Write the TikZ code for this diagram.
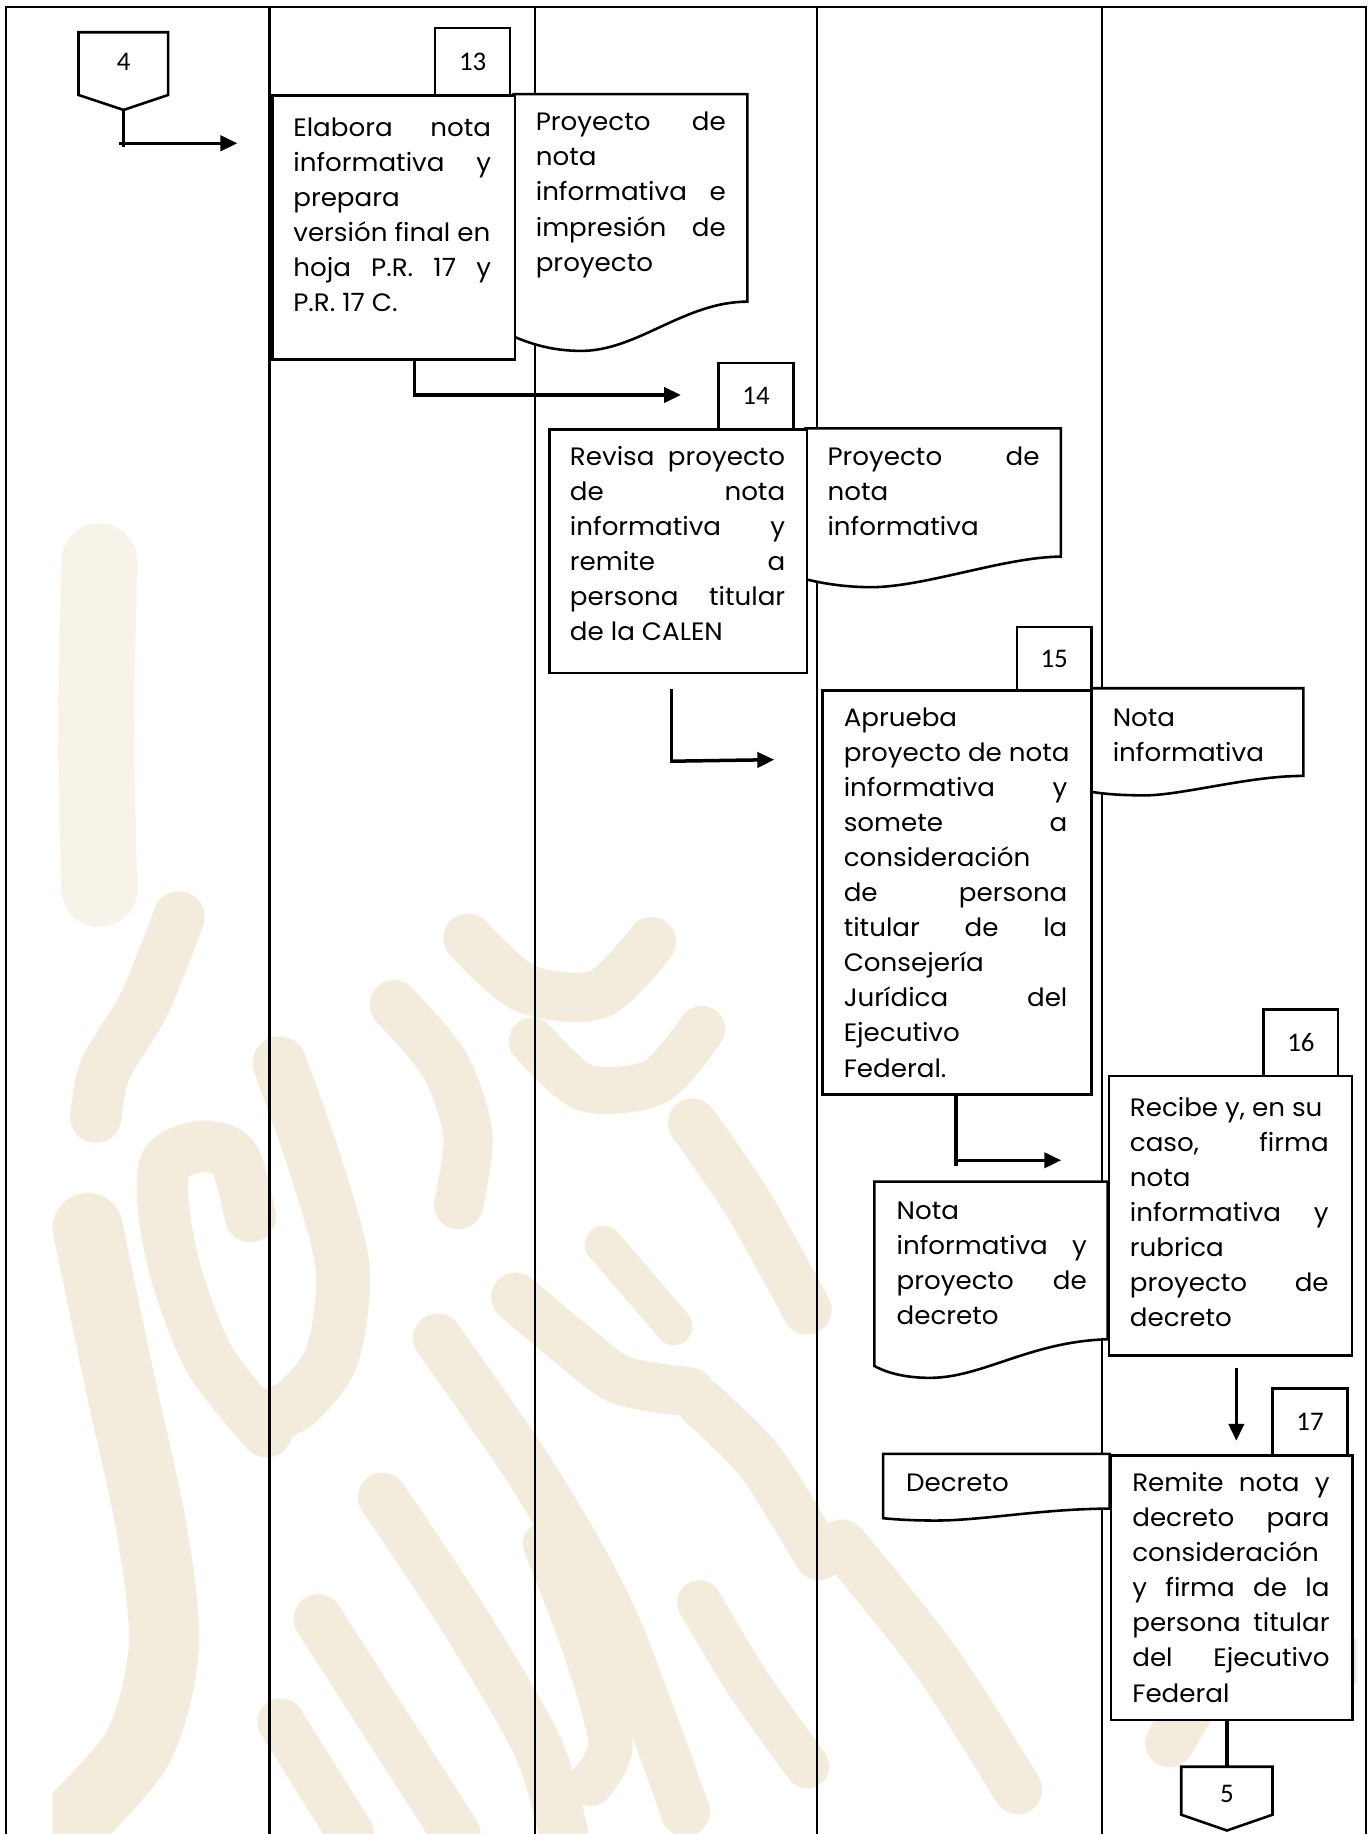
\documentclass[tikz,border=0pt]{standalone}
\usepackage{fontspec}
\setmainfont{Poppins}[FakeStretch=1.04]
\newfontfamily\numfont{Carlito}
\usetikzlibrary{arrows.meta}
\definecolor{wmA}{HTML}{F3ECDC}
\definecolor{wmB}{HTML}{F8F3E9}
\newcommand\jl[2]{\makebox[#1pt][s]{#2}}
\newcommand\fs{\rule{0pt}{20pt}}
\begin{document}
\begin{tikzpicture}[x=1pt,y=-1pt,
  lane/.style={line width=1.8pt},
  procbox/.style={draw, line width=2.2pt, fill=white, inner sep=0pt, anchor=north west},
  docshape/.style={draw, line width=2.2pt, fill=white},
  numbox/.style={draw, line width=2.2pt, fill=white, inner sep=0pt, anchor=north west},
  numtxt/.style={inner sep=0pt, font=\numfont\fontsize{23}{23}\selectfont},
  txt/.style={anchor=north west, inner sep=0pt, align=left, font=\fontsize{21.5}{30}\selectfont},
  flow/.style={line width=3pt},
  flowarr/.style={line width=3pt, -{Triangle[length=14.5pt,width=13pt]}},
  wmark/.style={draw=wmA, line cap=round, line join=round},
  wmarkl/.style={draw=wmB, line cap=round, line join=round},
]
\useasboundingbox (0,0) rectangle (1172,1568);
\fill[white] (0,0) rectangle (1172,1568);

% ---------- background watermark (approximate)
\begin{scope}
\clip (45,0) rectangle (1160,1568);
\draw[wmarkl, line width=65pt] plot[smooth] coordinates {(85,480) (82,620) (85,760)};
% lower-left
\draw[wmark, line width=44pt] plot[smooth] coordinates {(153,784) (123,859) (90,914) (82,955)};
\draw[wmark, line width=60pt] plot[smooth] coordinates {(75,1050) (103,1184) (130,1309) (140,1409) (118,1494) (60,1560)};
\draw[wmark, line width=44pt] plot[smooth] coordinates {(214,1040) (200,990) (172,980) (142,994) (140,1035) (152,1094) (180,1164) (228,1224)};
\draw[wmark, line width=46pt] plot[smooth] coordinates {(239,909) (269,994) (293,1084) (284,1159) (254,1199) (226,1212)};
\draw[wmark, line width=42pt] plot[smooth] coordinates {(337,859) (380,910) (400,970) (392,1030)};
\draw[wmark, line width=42pt] plot[smooth] coordinates {(400,802) (449,845) (512,850) (557,805)};
\draw[wmark, line width=40pt] plot[smooth] coordinates {(455,890) (500,930) (560,925) (600,880)};
\draw[wmark, line width=42pt] plot[smooth] coordinates {(441,1109) (490,1150) (531,1180) (590,1190)};
\draw[wmark, line width=32pt] plot[smooth] coordinates {(516,1064) (576,1134)};
\draw[wmark, line width=40pt] (240,1472) -- (300,1568);
\draw[wmark, line width=42pt] (272,1384) -- (390,1568);
\draw[wmark, line width=42pt] plot[smooth] coordinates {(327,1280) (400,1390) (460,1494) (482,1568)};
\draw[wmark, line width=42pt] plot[smooth] coordinates {(374,1144) (457,1264) (524,1384) (586,1549)};
\draw[wmark, line width=38pt] plot[smooth] coordinates {(466,1320) (500,1409) (522,1490) (505,1525)};
% lower-right
\draw[wmark, line width=42pt] plot[smooth] coordinates {(592,960) (640,1030) (690,1120)};
\draw[wmark, line width=38pt] plot[smooth] coordinates {(598,1370) (640,1440) (690,1510)};
\draw[wmark, line width=42pt] plot[smooth] coordinates {(600,1200) (650,1250) (700,1330)};
\draw[wmark, line width=42pt] plot[smooth] coordinates {(720,1320) (800,1420) (870,1530)};
\draw[wmark, line width=42pt] plot[smooth] coordinates {(1000,1490) (1040,1430) (1100,1400) (1150,1420)};
\end{scope}

% frame and lanes
\draw[lane] (5,1568) -- (5,6.3) -- (1167.5,6.3) -- (1167.5,1568);
\foreach \x in {230.4,457.5,698.4,941.9} \draw[lane] (\x,6.3) -- (\x,1568);

% ---------- connector 4
\draw[docshape] (67.1,27.6) -- (143.8,27.6) -- (143.8,81.2) -- (105.7,94) -- (67.1,81.2) -- cycle;
\node[numtxt] (c4) at (105.7,53) {4};
\coordinate (c4tip) at (105.7,94);
\coordinate (c4low) at (105.7,125.4);
\coordinate (c4a) at (101.5,122.5);
\coordinate (c4b) at (203,122.5);
\draw[flow] (c4tip) -- (c4low);
\draw[flowarr] (c4a) -- (c4b);

% ---------- step 13
\draw[docshape] (439.2,80.4) -- (639,80.4) -- (639,257.9) .. controls (585,258) and (545,300) .. (497,300) .. controls (470,300) and (452,293) .. (439.2,287.8) -- cycle;
\node[procbox, minimum width=207.2pt, minimum height=225.9pt] (p13) at (232,80.4) {};
\node[numbox, minimum width=64.2pt, minimum height=57.6pt] (n13) at (370.9,22.8) {};
\node[numtxt] (l13) at (n13.center) {13};
\node[txt] (t13) at (250.6,96.3) {\fs\jl{169}{Elabora nota}\\ \jl{169}{informativa y}\\ prepara\\ versión final en\\ \jl{169}{hoja P.R. 17 y}\\ P.R. 17 C.};
\node[txt] (t13d) at (457.9,91.6) {\fs\jl{162.4}{Proyecto de}\\ nota\\ \jl{162.4}{informativa e}\\ \jl{162.4}{impresión de}\\ proyecto};
\coordinate (c13a) at (354.3,306.3);
\coordinate (c13b) at (354.3,339.2);
\coordinate (c13c) at (354.3,337.7);
\coordinate (c13d) at (582.2,337.7);
\draw[flow] (c13a) -- (c13b);
\draw[flowarr] (c13c) -- (c13d);

% ---------- step 14
\draw[docshape] (688.8,366.2) -- (907,366.2) -- (907,475.9) .. controls (860,476) and (790,502) .. (745,502) .. controls (720,502) and (700,498) .. (688.8,495.2) -- cycle;
\node[procbox, minimum width=220.3pt, minimum height=208pt] (p14) at (468.5,366.2) {};
\node[numbox, minimum width=63.8pt, minimum height=57pt] (n14) at (613.4,309.2) {};
\node[numtxt] (l14) at (n14.center) {14};
\node[txt] (t14) at (487.1,377.5) {\fs\jl{184}{Revisa proyecto}\\ \jl{184}{de nota}\\ \jl{184}{informativa y}\\ \jl{184}{remite a}\\ \jl{184}{persona titular}\\ de la CALEN};
\node[txt] (t14d) at (707.3,377.5) {\fs\jl{181.3}{Proyecto de}\\ nota\\ informativa};
\coordinate (c14a) at (574,589.3);
\coordinate (c14b) at (574,652.3);
\coordinate (c14c) at (574,650.8);
\coordinate (c14d) at (662,649.5);
\draw[flow] (c14a) -- (c14b);
\draw[flowarr] (c14c) -- (c14d);

% ---------- step 15
\draw[docshape] (932,588.4) -- (1114.3,588.4) -- (1114.3,663.4) .. controls (1070,663) and (1010,680) .. (979,680) .. controls (960,680) and (945,679) .. (932,676.8) -- cycle;
\node[procbox, minimum width=230pt, minimum height=345.5pt] (p15) at (702.2,589.3) {};
\node[numbox, minimum width=63.7pt, minimum height=54.2pt] (n15) at (868.3,535.1) {};
\node[numtxt] (l15) at (n15.center) {15};
\node[txt] (t15) at (721.2,600.6) {\fs Aprueba\\ proyecto de nota\\ \jl{191.2}{informativa y}\\ \jl{191.2}{somete a}\\ consideración\\ \jl{191.2}{de persona}\\ \jl{191.2}{titular de la}\\ Consejería\\ \jl{191.2}{Jurídica del}\\ Ejecutivo\\ Federal.};
\node[txt] (t15d) at (951.2,600.6) {\fs Nota\\ informativa};
\coordinate (c15a) at (817.3,934.8);
\coordinate (c15b) at (817.3,997);
\coordinate (c15c) at (817.3,992);
\coordinate (c15d) at (907.3,992);
\draw[flow] (c15a) -- (c15b);
\draw[flowarr] (c15c) -- (c15d);

% ---------- step 16
\draw[docshape] (747.5,1010.2) -- (947,1010.2) -- (947,1145) .. controls (880,1147) and (840,1178) .. (795,1178) .. controls (770,1178) and (755,1172) .. (747.5,1167.8) -- cycle;
\node[procbox, minimum width=207.8pt, minimum height=238.8pt] (p16) at (947,919) {};
\node[numbox, minimum width=63.7pt, minimum height=57pt] (n16) at (1079.3,862) {};
\node[numtxt] (l16) at (n16.center) {16};
\node[txt] (t16) at (965.8,934) {\fs Recibe y, en su\\ \jl{170}{caso, firma}\\ nota\\ \jl{170}{informativa y}\\ rubrica\\ \jl{170}{proyecto de}\\ decreto};
\node[txt] (t16d) at (766.4,1022) {\fs Nota\\ \jl{162.6}{informativa y}\\ \jl{162.6}{proyecto de}\\ decreto};
\coordinate (c16a) at (1057,1170);
\coordinate (c16b) at (1057,1231.8);
\draw[flowarr] (c16a) -- (c16b);

% ---------- step 17
\draw[docshape] (755,1243) -- (948.7,1243) -- (948.7,1289.8) .. controls (890,1290) and (840,1300) .. (800,1300) .. controls (780,1300) and (765,1299) .. (755,1298) -- cycle;
\node[procbox, minimum width=206.7pt, minimum height=226.2pt] (p17) at (948.7,1243.2) {};
\node[numbox, minimum width=63.9pt, minimum height=57.1pt] (n17) at (1087,1186.1) {};
\node[numtxt] (l17) at (n17.center) {17};
\node[txt] (t17) at (967.9,1255) {\fs\jl{168.6}{Remite nota y}\\ \jl{168.6}{decreto para}\\ consideración\\ \jl{168.6}{y firma de la}\\ \jl{168.6}{persona titular}\\ \jl{168.6}{del Ejecutivo}\\ Federal};
\node[txt] (t17d) at (774.5,1255) {\fs Decreto};
\coordinate (c17a) at (1049,1469.4);
\coordinate (c17b) at (1049,1510.5);
\draw[flow] (c17a) -- (c17b);

% ---------- connector 5
\draw[docshape] (1009.9,1510.5) -- (1087.9,1510.5) -- (1087.9,1551.5) -- (1049,1565) -- (1009.9,1551.5) -- cycle;
\node[numtxt] (c5) at (1049,1534) {5};
\end{tikzpicture}
\end{document}
